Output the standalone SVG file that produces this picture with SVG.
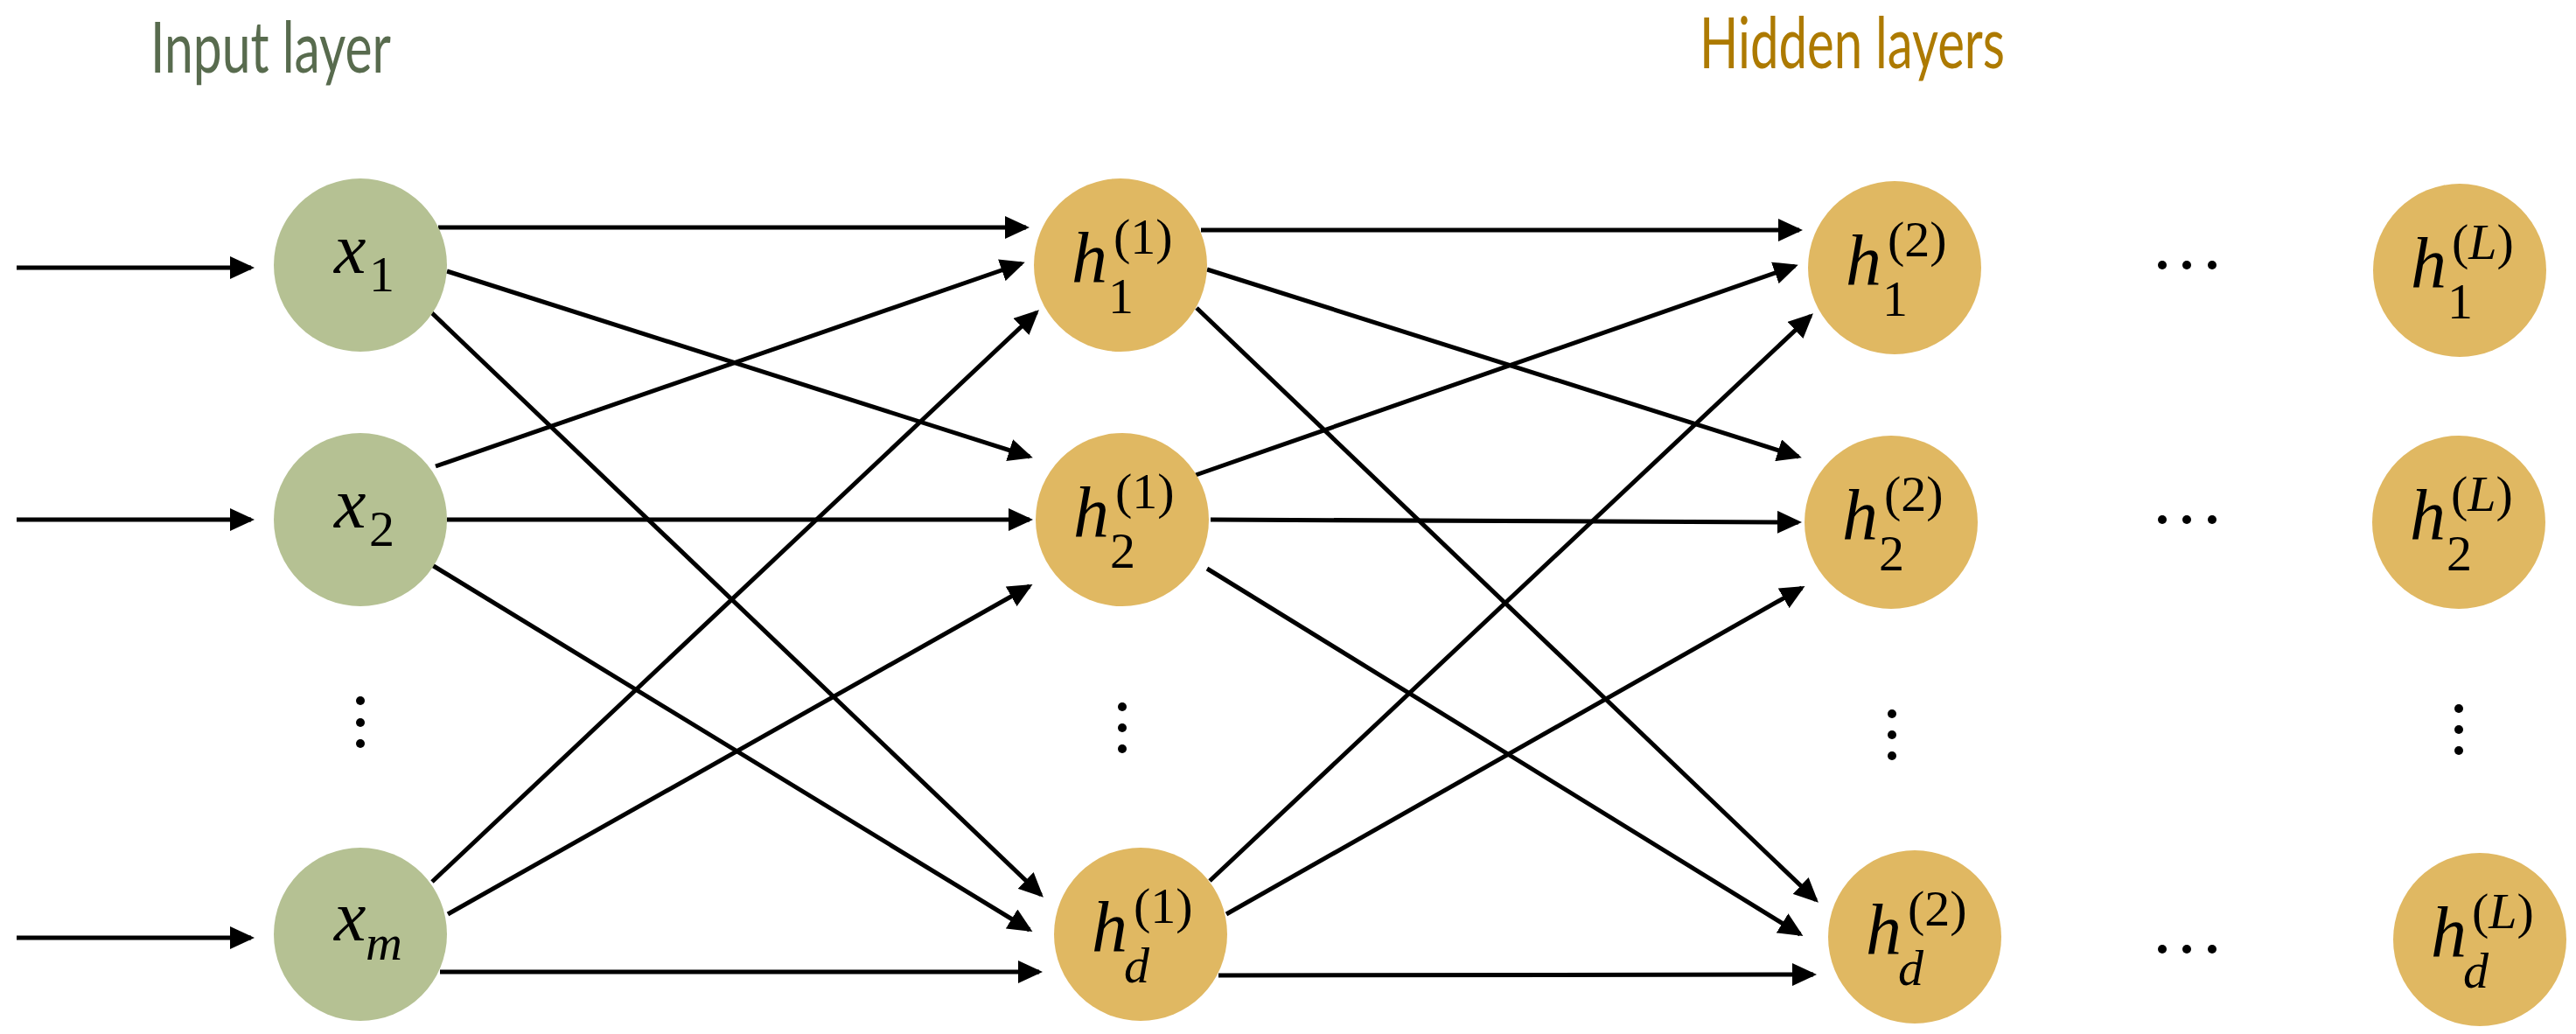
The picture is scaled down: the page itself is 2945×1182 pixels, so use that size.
<svg xmlns="http://www.w3.org/2000/svg" width="2945" height="1182" viewBox="0 0 2945 1182">
  <style>
    .title { font-family: Lato, "Noto Sans", sans-serif; font-size: 82px; }
    .in { fill: #B5C193; }
    .hid { fill: #E0B862; }
    .math { font-family: "Liberation Serif", "Times New Roman", serif; fill: #000; }
    .big { font-size: 82px; font-style: italic; }
    .sm { font-size: 58px; font-style: normal; }
    .it { font-style: italic; }
    .edge { stroke: #000; stroke-width: 5; fill: none; marker-end: url(#head); }
    .dot { fill: #000; }
  </style>
  <defs>
    <marker id="head" markerUnits="userSpaceOnUse" markerWidth="28" markerHeight="26" refX="24" refY="13" orient="auto">
      <path d="M0,0 L28,13 L0,26 z" fill="#000"/>
    </marker>
  </defs>
  <rect width="2945" height="1182" fill="#fff"/>

  <!-- layer titles -->
  <text class="title" x="172" y="83" fill="#586B4E" textLength="275" lengthAdjust="spacingAndGlyphs">Input layer</text>
  <text class="title" x="1943" y="78" fill="#AD7A00" textLength="349" lengthAdjust="spacingAndGlyphs">Hidden layers</text>

  <!-- connectors -->
  <g id="connectors">
    <!-- external inputs -->
    <line class="edge" x1="19" y1="306" x2="287" y2="306"/>
    <line class="edge" x1="19" y1="594" x2="287" y2="594"/>
    <line class="edge" x1="19" y1="1072" x2="287" y2="1072"/>
    <!-- input layer to hidden layer 1 -->
    <line class="edge" x1="501" y1="260" x2="1173" y2="260"/>
    <line class="edge" x1="511" y1="310" x2="1177" y2="522"/>
    <line class="edge" x1="493" y1="357" x2="1190" y2="1023"/>
    <line class="edge" x1="498" y1="533" x2="1168" y2="301"/>
    <line class="edge" x1="511" y1="594" x2="1177" y2="594"/>
    <line class="edge" x1="494" y1="646" x2="1177" y2="1063"/>
    <line class="edge" x1="494" y1="1008" x2="1185" y2="357"/>
    <line class="edge" x1="512" y1="1045" x2="1177" y2="670"/>
    <line class="edge" x1="503" y1="1111" x2="1188" y2="1111"/>
    <!-- hidden layer 1 to hidden layer 2 -->
    <line class="edge" x1="1373" y1="263" x2="2057" y2="263"/>
    <line class="edge" x1="1380" y1="308" x2="2056" y2="522"/>
    <line class="edge" x1="1368" y1="352" x2="2076" y2="1029"/>
    <line class="edge" x1="1367" y1="543" x2="2052" y2="304"/>
    <line class="edge" x1="1384" y1="594" x2="2056" y2="597"/>
    <line class="edge" x1="1380" y1="650" x2="2058" y2="1068"/>
    <line class="edge" x1="1383" y1="1007" x2="2070" y2="361"/>
    <line class="edge" x1="1402" y1="1045" x2="2060" y2="672"/>
    <line class="edge" x1="1393" y1="1115" x2="2073" y2="1114"/>
  </g>

  <!-- input layer -->
  <g id="x1">
    <circle class="in" cx="412" cy="303" r="99"/>
    <text class="math"><tspan class="big" x="382" y="312">x</tspan><tspan class="sm" x="422" y="333">1</tspan></text>
  </g>
  <g id="x2">
    <circle class="in" cx="412" cy="594" r="99"/>
    <text class="math"><tspan class="big" x="382" y="603">x</tspan><tspan class="sm" x="422" y="624">2</tspan></text>
  </g>
  <g id="xm">
    <circle class="in" cx="412" cy="1068" r="99"/>
    <text class="math"><tspan class="big" x="382" y="1075">x</tspan><tspan class="sm it" x="418" y="1097">m</tspan></text>
  </g>

  <!-- hidden layer 1 -->
  <g id="h1_1">
    <circle class="hid" cx="1281" cy="303" r="99"/>
    <text class="math"><tspan class="big" x="1225" y="322">h</tspan><tspan class="sm" x="1273" y="290">(1)</tspan><tspan class="sm" x="1267" y="358">1</tspan></text>
  </g>
  <g id="h2_1">
    <circle class="hid" cx="1283" cy="594" r="99"/>
    <text class="math"><tspan class="big" x="1227" y="613">h</tspan><tspan class="sm" x="1275" y="581">(1)</tspan><tspan class="sm" x="1269" y="649">2</tspan></text>
  </g>
  <g id="hd_1">
    <circle class="hid" cx="1304" cy="1068" r="99"/>
    <text class="math"><tspan class="big" x="1248" y="1087">h</tspan><tspan class="sm" x="1296" y="1055">(1)</tspan><tspan class="sm it" x="1285" y="1123">d</tspan></text>
  </g>

  <!-- hidden layer 2 -->
  <g id="h1_2">
    <circle class="hid" cx="2166" cy="306" r="99"/>
    <text class="math"><tspan class="big" x="2110" y="325">h</tspan><tspan class="sm" x="2158" y="293">(2)</tspan><tspan class="sm" x="2152" y="361">1</tspan></text>
  </g>
  <g id="h2_2">
    <circle class="hid" cx="2162" cy="597" r="99"/>
    <text class="math"><tspan class="big" x="2106" y="616">h</tspan><tspan class="sm" x="2154" y="584">(2)</tspan><tspan class="sm" x="2148" y="652">2</tspan></text>
  </g>
  <g id="hd_2">
    <circle class="hid" cx="2189" cy="1071" r="99"/>
    <text class="math"><tspan class="big" x="2133" y="1090">h</tspan><tspan class="sm" x="2181" y="1058">(2)</tspan><tspan class="sm it" x="2170" y="1126">d</tspan></text>
  </g>

  <!-- hidden layer L -->
  <g id="h1_L">
    <circle class="hid" cx="2812" cy="309" r="99"/>
    <text class="math"><tspan class="big" x="2756" y="328">h</tspan><tspan class="sm" x="2803" y="296">(<tspan class="it">L</tspan>)</tspan><tspan class="sm" x="2798" y="364">1</tspan></text>
  </g>
  <g id="h2_L">
    <circle class="hid" cx="2811" cy="597" r="99"/>
    <text class="math"><tspan class="big" x="2755" y="616">h</tspan><tspan class="sm" x="2802" y="584">(<tspan class="it">L</tspan>)</tspan><tspan class="sm" x="2797" y="652">2</tspan></text>
  </g>
  <g id="hd_L">
    <circle class="hid" cx="2835" cy="1074" r="99"/>
    <text class="math"><tspan class="big" x="2779" y="1093">h</tspan><tspan class="sm" x="2826" y="1061">(<tspan class="it">L</tspan>)</tspan><tspan class="sm it" x="2816" y="1129">d</tspan></text>
  </g>

  <!-- ellipses -->
  <g id="ellipses">
    <circle class="dot" cx="2472" cy="303" r="5"/><circle class="dot" cx="2500" cy="303" r="5"/><circle class="dot" cx="2529" cy="303" r="5"/>
    <circle class="dot" cx="2472" cy="594" r="5"/><circle class="dot" cx="2500" cy="594" r="5"/><circle class="dot" cx="2529" cy="594" r="5"/>
    <circle class="dot" cx="2472" cy="1085" r="5"/><circle class="dot" cx="2500" cy="1085" r="5"/><circle class="dot" cx="2529" cy="1085" r="5"/>
    <circle class="dot" cx="412" cy="801" r="5"/><circle class="dot" cx="412" cy="826" r="5"/><circle class="dot" cx="412" cy="850" r="5"/>
    <circle class="dot" cx="1283" cy="808" r="5"/><circle class="dot" cx="1283" cy="832" r="5"/><circle class="dot" cx="1283" cy="856" r="5"/>
    <circle class="dot" cx="2163" cy="816" r="5"/><circle class="dot" cx="2163" cy="840" r="5"/><circle class="dot" cx="2163" cy="864" r="5"/>
    <circle class="dot" cx="2811" cy="810" r="5"/><circle class="dot" cx="2811" cy="834" r="5"/><circle class="dot" cx="2811" cy="858" r="5"/>
  </g>
</svg>
